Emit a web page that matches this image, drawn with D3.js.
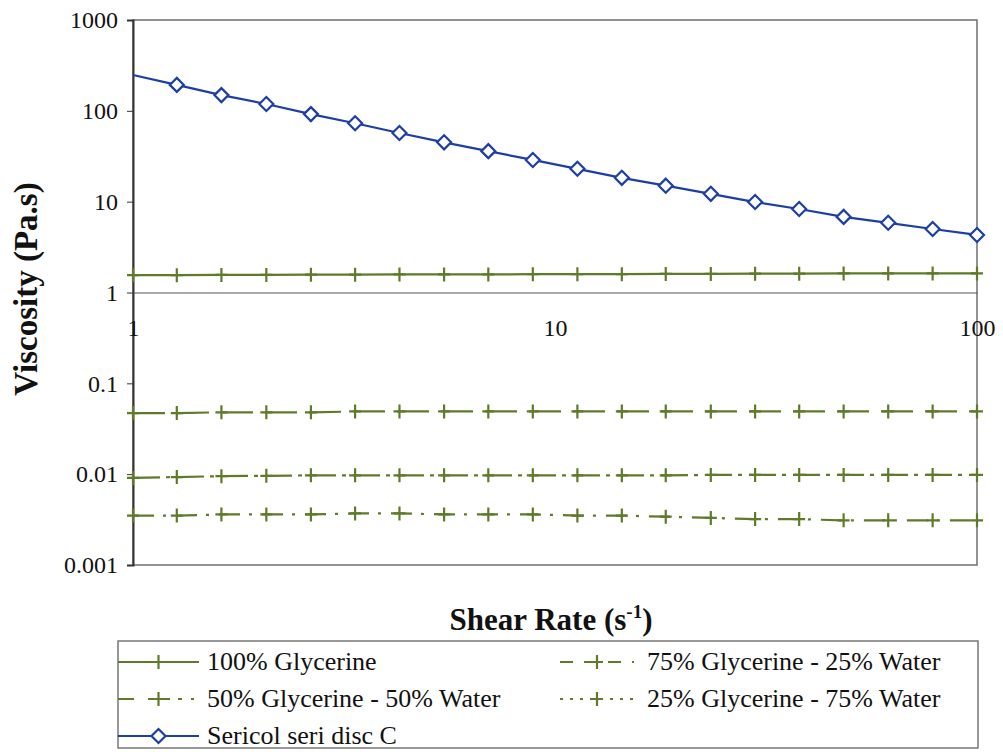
<!DOCTYPE html>
<html>
<head>
<meta charset="utf-8">
<script src="https://cdn.jsdelivr.net/npm/d3@7"></script>
<style>
  html, body { margin: 0; padding: 0; background: #fff; }
  svg text { font-family: "Liberation Serif", "DejaVu Serif", serif; }
</style>
</head>
<body>
<div class="chart"></div>
<script>
//Data
var shearRate = [1, 1.27, 1.62, 2.07, 2.64, 3.36, 4.28, 5.46, 6.95, 8.86, 11.3, 14.4, 18.3, 23.4, 29.8, 37.9, 48.3, 61.6, 78.5, 100];
var glyc100 = [1.55, 1.55, 1.56, 1.56, 1.57, 1.57, 1.58, 1.58, 1.58, 1.59, 1.59, 1.59, 1.6, 1.6, 1.61, 1.61, 1.62, 1.62, 1.62, 1.62];
var glyc75 = [0.047, 0.047, 0.048, 0.048, 0.048, 0.049, 0.049, 0.049, 0.049, 0.049, 0.049, 0.049, 0.049, 0.049, 0.049, 0.049, 0.049, 0.049, 0.049, 0.049];
var glyc50 = [0.0091, 0.0093, 0.0095, 0.0096, 0.0097, 0.0097, 0.0097, 0.0097, 0.0097, 0.0097, 0.0097, 0.0097, 0.0097, 0.0098, 0.0098, 0.0098, 0.0098, 0.0098, 0.0098, 0.0098];
var glyc25 = [0.0035, 0.0035, 0.0036, 0.0036, 0.0036, 0.0037, 0.0037, 0.0036, 0.0036, 0.0036, 0.0035, 0.0035, 0.0034, 0.0033, 0.0032, 0.0032, 0.0031, 0.0031, 0.0031, 0.0031];
var sericol = [248, 193, 149, 119, 92, 73, 57, 45, 36, 28.8, 23, 18.3, 15, 12.2, 9.9, 8.3, 6.8, 5.85, 5.0, 4.3];

var seriesNames = ['100% Glycerine', '75% Glycerine - 25% Water', '50% Glycerine - 50% Water', '25% Glycerine - 75% Water', 'Sericol seri disc C'];
var yTickValues = [0.001, 0.01, 0.1, 1, 10, 100, 1000];
var yTickLabels = ['0.001', '0.01', '0.1', '1', '10', '100', '1000'];
var xTickValues = [1, 10, 100];
var xTickLabels = ['1', '10', '100'];

//Layout
var width = 1003, height = 752;
var plot = { left: 133, right: 977, top: 20, bottom: 565 };
var green = '#5f7a28', blue = '#1c3ea6';
var serif = 'Liberation Serif';

var series = [
  { name: seriesNames[0], values: glyc100, color: green, dash: null, legendDash: null, marker: 'plus' },
  { name: seriesNames[1], values: glyc75, color: green, dash: '32,12', legendDash: '13,11', marker: 'plus' },
  { name: seriesNames[2], values: glyc50, color: green, dash: '27,6,4,7', legendDash: '16,14,22,8,4,9,3', marker: 'plus' },
  { name: seriesNames[3], values: glyc25, color: green, dash: '21,9,3,10', legendDash: '3,7', marker: 'plus' },
  { name: seriesNames[4], values: sericol, color: blue, dash: null, legendDash: null, marker: 'diamond', skipFirst: true }
];

var x = d3.scaleLog().domain([1, 100]).range([plot.left, plot.right]);
var y = d3.scaleLog().domain([0.001, 1000]).range([plot.bottom, plot.top]);

var svg = d3.select('.chart').append('svg').attr('width', width).attr('height', height)
  .attr('font-family', serif);
svg.append('rect').attr('width', width).attr('height', height).attr('fill', '#fff');

//Plot frame
svg.append('rect')
  .attr('x', plot.left).attr('y', plot.top)
  .attr('width', plot.right - plot.left).attr('height', plot.bottom - plot.top)
  .attr('fill', 'none').attr('stroke', '#6f6f6f').attr('stroke-width', 1.5);

//Y axis
var yAxis = svg.append('g').attr('transform', 'translate(' + plot.left + ',0)')
  .call(d3.axisLeft(y).tickValues(yTickValues).tickSize(6).tickPadding(9)
    .tickFormat(function(d, i){ return yTickLabels[i]; }));
yAxis.attr('font-family', serif);
yAxis.select('.domain').attr('stroke', '#333').attr('stroke-width', 2);
yAxis.selectAll('.tick line').attr('stroke', '#333');
yAxis.selectAll('.tick text').attr('font-size', 24).attr('fill', '#111');

//X axis crosses at viscosity = 1
var xAxis = svg.append('g').attr('transform', 'translate(0,' + y(1) + ')')
  .call(d3.axisBottom(x).tickValues(xTickValues).tickSize(0).tickPadding(26)
    .tickFormat(function(d, i){ return xTickLabels[i]; }));
xAxis.attr('font-family', serif);
xAxis.select('.domain').attr('stroke', '#555').attr('stroke-width', 1.2);
xAxis.selectAll('.tick text').attr('font-size', 24).attr('fill', '#111');

//Axis titles
var xTitle = svg.append('text')
  .attr('x', 551).attr('y', 630)
  .attr('text-anchor', 'middle').attr('font-size', 31).attr('font-weight', 'bold').attr('fill', '#111');
xTitle.append('tspan').text('Shear Rate (s');
xTitle.append('tspan').attr('font-size', 19).attr('dy', -12).text('-1');
xTitle.append('tspan').attr('dy', 12).text(')');

svg.append('text')
  .attr('transform', 'translate(37,289) rotate(-90)')
  .attr('text-anchor', 'middle').attr('font-size', 33).attr('font-weight', 'bold').attr('fill', '#111')
  .text('Viscosity (Pa.s)');

//Marker drawing
function drawMarker(g, type, color){
  if(type == 'plus'){
    g.append('path').attr('d', 'M-6,0H6M0,-7V7').attr('stroke', color).attr('stroke-width', 2.2).attr('fill', 'none');
  }
  else {
    g.append('path').attr('d', 'M0,-7L7,0L0,7L-7,0Z').attr('stroke', color).attr('stroke-width', 2.2).attr('fill', '#fff');
  }
}

//Series
var line = d3.line()
  .x(function(d){ return x(d[0]); })
  .y(function(d){ return y(d[1]); });

series.forEach(function(s){
  var pts = shearRate.map(function(r, i){ return [r, s.values[i]]; });
  svg.append('path').datum(pts)
    .attr('d', line).attr('fill', 'none')
    .attr('stroke', s.color).attr('stroke-width', 2.2)
    .attr('stroke-dasharray', s.dash);
  pts.forEach(function(p, i){
    if(s.skipFirst && i == 0) return;
    var g = svg.append('g').attr('transform', 'translate(' + x(p[0]) + ',' + y(p[1]) + ')');
    drawMarker(g, s.marker, s.color);
  });
});

//Legend
var legend = svg.append('g');
legend.append('rect')
  .attr('x', 118).attr('y', 641).attr('width', 860).attr('height', 107)
  .attr('fill', '#fff').attr('stroke', '#777').attr('stroke-width', 1.5);

var legendPos = [[118, 662], [560, 662], [118, 699], [560, 699], [118, 736]];
series.forEach(function(s, i){
  var sx0 = legendPos[i][0], ly = legendPos[i][1];
  var sx1 = sx0 + (i % 2 ? 74 : 81);
  legend.append('line')
    .attr('x1', sx0).attr('x2', sx1).attr('y1', ly).attr('y2', ly)
    .attr('stroke', s.color).attr('stroke-width', 2.2)
    .attr('stroke-dasharray', s.legendDash);
  var g = legend.append('g').attr('transform', 'translate(' + ((sx0 + sx1) / 2) + ',' + ly + ')');
  drawMarker(g, s.marker, s.color);
  legend.append('text')
    .attr('x', sx1 + (i % 2 ? 13 : 8)).attr('y', ly + 8)
    .attr('font-size', 26).attr('fill', '#111')
    .text(s.name);
});
</script>
</body>
</html>
